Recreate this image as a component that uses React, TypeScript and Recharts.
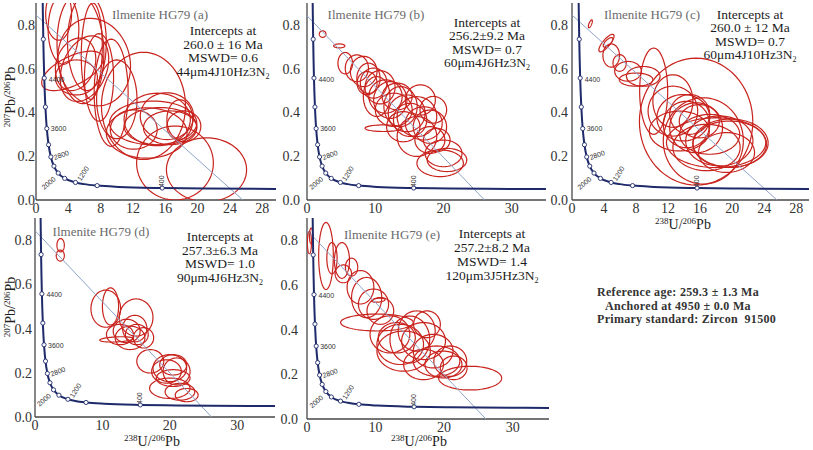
import React from 'react'
import { ScatterChart, Scatter, XAxis, YAxis } from 'recharts'

const RED = '#c8231d'
const NAVY = '#1f2a6b'
const DISCORDIA = '#8fa3c8'
const FRAME = '#474747'
const SERIF = '"Liberation Serif", "Times New Roman", Times, serif'
const SANS = '"Liberation Sans", Arial, sans-serif'

// Tera-Wasserburg concordia
const concordiaX = [0.829, 0.853, 0.9045, 0.96, 1.0215, 1.0888, 1.163, 1.2452, 1.337, 1.556, 1.838, 2.217, 2.749, 3.55, 4.888, 5.959, 7.568, 10.25, 15.62, 20.99, 31.73, 42.48]
const concordiaY = [0.907, 0.845, 0.7346, 0.639, 0.557, 0.4862, 0.425, 0.3721, 0.3264, 0.2524, 0.1968, 0.1548, 0.123, 0.0987, 0.0801, 0.0725, 0.0658, 0.0599, 0.0547, 0.0523, 0.0501, 0.049]

// age markers (Ma) on the concordia
const markerAges = [4800, 4400, 4000, 3600, 3200, 2800, 2400, 2000, 1600, 1200, 800, 400]
const markerX = [0.9045, 1.0215, 1.163, 1.337, 1.556, 1.838, 2.217, 2.749, 3.55, 4.888, 7.568, 15.62]
const markerY = [0.7346, 0.557, 0.425, 0.3264, 0.2524, 0.1968, 0.1548, 0.123, 0.0987, 0.0801, 0.0658, 0.0547]

const panelIds = ['a', 'b', 'c', 'd', 'e']
const intercepts = ['260.0 ± 16 Ma', '256.2±9.2 Ma', '260.0 ± 12 Ma', '257.3±6.3 Ma', '257.2±8.2 Ma']
const mswd = ['0.6', '0.7', '0.7', '1.0', '1.4']
const spots = ['44μm4J10Hz3', '60μm4J6Hz3', '60μm4J10Hz3', '90μm4J6Hz3', '120μm3J5Hz3']

// discordia: 207Pb/206Pb intercept and 238U/206Pb intercept
const discordiaY0 = [0.845, 0.842, 0.845, 0.843, 0.845]
const discordiaX0 = [25.6, 26.0, 25.6, 26.2, 26.1]

const ticksFine = [0, 4, 8, 12, 16, 20, 24, 28]
const ticksCoarse = [0, 10, 20, 30]
const yTicks = [0, 0.2, 0.4, 0.6, 0.8]

// error ellipses: [238U/206Pb, 207Pb/206Pb, half width, half height, rho]
const ellipsesA = [
  [3.4, 0.78, 1.9, 0.16, 0], [5.5, 0.69, 2.9, 0.25, -0.1], [6.3, 0.72, 2.4, 0.22, 0],
  [6.9, 0.68, 1.3, 0.22, 0.1], [4.5, 0.59, 3.8, 0.09, 0.6], [4.9, 0.62, 2.5, 0.12, 0.2],
  [7.2, 0.63, 4.5, 0.2, -0.1], [5.0, 0.56, 2.6, 0.08, 0], [9.3, 0.49, 2.1, 0.245, 0],
  [7.8, 0.56, 1.8, 0.2, 0], [6.0, 0.6, 3.0, 0.15, 0.3], [2.8, 0.85, 1.6, 0.12, 0],
  [13.3, 0.43, 5.2, 0.245, 0], [14.5, 0.352, 5.4, 0.1, 0], [15.4, 0.337, 4.5, 0.085, 0],
  [15.0, 0.368, 4.1, 0.12, 0], [16.6, 0.33, 3.3, 0.077, 0], [13.7, 0.306, 5.0, 0.115, 0],
  [16.2, 0.383, 3.3, 0.107, 0], [17.2, 0.169, 4.75, 0.169, 0], [21.1, 0.138, 4.96, 0.146, 0],
  [18.3, 0.337, 2.1, 0.07, 0], [17.8, 0.368, 1.6, 0.09, 0], [12.1, 0.322, 2.9, 0.09, 0],
  [10.0, 0.46, 2.5, 0.18, 0],
]
const ellipsesB = [
  [2.29, 0.758, 0.49, 0.015, 0], [4.73, 0.704, 0.83, 0.009, 0], [5.6, 0.625, 1.07, 0.049, 0],
  [7.3, 0.602, 1.7, 0.061, 0], [8.3, 0.587, 1.95, 0.069, 0], [9.0, 0.556, 1.7, 0.069, 0],
  [9.76, 0.534, 1.95, 0.069, 0], [10.7, 0.515, 2.2, 0.076, 0], [11.5, 0.473, 2.44, 0.076, 0],
  [12.2, 0.457, 2.44, 0.084, 0], [12.7, 0.412, 2.7, 0.076, 0], [13.7, 0.427, 2.44, 0.091, 0],
  [14.6, 0.396, 2.7, 0.084, 0], [15.1, 0.366, 2.44, 0.076, 0], [16.1, 0.381, 2.9, 0.091, 0],
  [17.1, 0.35, 2.7, 0.076, 0], [18.0, 0.335, 2.44, 0.076, 0], [14.1, 0.335, 2.44, 0.069, 0],
  [11.2, 0.328, 2.7, 0.015, 0], [18.0, 0.274, 2.2, 0.061, 0], [20.0, 0.213, 2.7, 0.061, 0],
  [20.5, 0.183, 2.9, 0.053, 0], [19.5, 0.168, 3.4, 0.061, 0], [19.0, 0.274, 1.95, 0.053, 0],
  [16.1, 0.29, 2.9, 0.091, 0], [13.2, 0.473, 2.2, 0.061, 0], [10.2, 0.473, 1.95, 0.091, 0],
  [8.8, 0.534, 1.46, 0.053, 0], [16.6, 0.457, 2.2, 0.069, 0], [18.5, 0.412, 1.95, 0.061, 0],
]
const ellipsesC = [
  [2.29, 0.805, 0.25, 0.018, 0.7], [4.3, 0.717, 0.95, 0.04, 0.8], [4.5, 0.72, 0.6, 0.022, 0.7],
  [4.9, 0.66, 1.04, 0.053, 0], [5.95, 0.626, 0.83, 0.038, 0], [7.0, 0.588, 1.67, 0.045, 0],
  [8.0, 0.55, 2.1, 0.03, 0], [8.9, 0.565, 2.1, 0.045, 0], [10.2, 0.497, 1.75, 0.197, 0],
  [15.5, 0.358, 7.08, 0.29, 0], [12.6, 0.406, 3.1, 0.114, 0], [13.9, 0.376, 3.3, 0.106, 0],
  [14.3, 0.345, 2.9, 0.106, 0], [14.7, 0.391, 2.5, 0.091, 0], [12.6, 0.452, 2.5, 0.12, 0],
  [15.5, 0.33, 3.3, 0.114, 0], [15.9, 0.36, 2.5, 0.076, 0], [17.2, 0.3, 3.75, 0.091, 0],
  [13.4, 0.315, 3.75, 0.091, 0], [18.4, 0.27, 4.2, 0.114, 0], [19.7, 0.255, 4.6, 0.106, 0],
  [16.4, 0.27, 5.0, 0.197, 0], [16.8, 0.24, 4.2, 0.106, 0], [19.3, 0.217, 3.5, 0.091, 0],
  [18.0, 0.262, 6.2, 0.114, 0], [19.8, 0.26, 4.7, 0.11, 0],
]
const ellipsesD = [
  [3.8, 0.777, 0.55, 0.03, 0], [3.75, 0.73, 0.6, 0.025, 0], [10.5, 0.49, 2.2, 0.084, 0],
  [11.2, 0.5, 1.2, 0.084, 0], [15.0, 0.45, 2.5, 0.084, 0], [13.6, 0.389, 2.0, 0.053, 0],
  [14.1, 0.358, 2.2, 0.053, 0], [12.6, 0.373, 2.0, 0.046, 0], [15.1, 0.373, 1.7, 0.046, 0],
  [16.1, 0.358, 1.5, 0.046, 0], [12.1, 0.351, 2.5, 0.012, 0.3], [14.8, 0.4, 1.8, 0.06, 0],
  [17.1, 0.252, 2.0, 0.053, 0], [20.0, 0.221, 2.5, 0.061, 0], [20.5, 0.236, 2.0, 0.046, 0],
  [19.5, 0.206, 2.2, 0.053, 0], [21.0, 0.206, 2.0, 0.061, 0], [20.5, 0.176, 2.5, 0.038, 0],
  [20.0, 0.13, 3.0, 0.046, 0], [21.5, 0.114, 2.2, 0.038, 0], [22.5, 0.099, 1.7, 0.03, 0],
]
const ellipsesE = [
  [0.35, 0.79, 0.3, 0.05, 0], [0.6, 0.82, 0.25, 0.035, 0], [2.77, 0.73, 1.07, 0.15, 0],
  [3.64, 0.72, 0.75, 0.07, 0], [5.1, 0.71, 1.1, 0.08, 0], [5.3, 0.65, 1.2, 0.04, 0],
  [6.5, 0.68, 0.9, 0.04, 0], [7.8, 0.59, 1.95, 0.075, 0], [8.7, 0.544, 2.2, 0.09, 0],
  [9.7, 0.514, 2.2, 0.068, 0], [10.7, 0.484, 1.95, 0.06, 0], [10.2, 0.432, 5.3, 0.038, 0],
  [12.1, 0.379, 2.9, 0.083, 0], [13.1, 0.364, 2.7, 0.068, 0], [13.6, 0.334, 3.4, 0.09, 0],
  [15.0, 0.356, 2.9, 0.105, 0], [16.0, 0.394, 2.7, 0.09, 0], [17.0, 0.349, 3.2, 0.083, 0],
  [14.1, 0.304, 3.9, 0.09, 0], [18.4, 0.304, 2.9, 0.075, 0], [18.9, 0.259, 3.4, 0.068, 0],
  [19.9, 0.244, 2.7, 0.06, 0], [21.4, 0.229, 1.95, 0.053, 0], [23.8, 0.183, 4.6, 0.053, 0],
  [17.0, 0.244, 2.9, 0.068, 0], [20.9, 0.259, 2.4, 0.068, 0], [17.5, 0.424, 1.95, 0.06, 0],
  [10.4, 0.532, 1.0, 0.009, 0.3],
]
const ellipseSets = [ellipsesA, ellipsesB, ellipsesC, ellipsesD, ellipsesE]

// panel placement (px)
const layout = [
  { left: 0, top: 0, w: 280, h: 218, mt: 3, mr: 4, yw: 36, xh: 18, xMax: 29.7, ticks: ticksFine, yGap: 1, title: [160, 15], info: [223, 24, 13.7] },
  { left: 280, top: 0, w: 268, h: 218, mt: 3, mr: 2, yw: 27, xh: 18, xMax: 35, ticks: ticksCoarse, yGap: 7, title: [376, 15], info: [487, 16, 13.4] },
  { left: 548, top: 0, w: 265, h: 218, mt: 3, mr: 4, yw: 24, xh: 18, xMax: 29.6, ticks: ticksFine, yGap: 4, title: [652, 15], info: [750, 8, 13.4] },
  { left: 0, top: 210, w: 280, h: 240, mt: 8, mr: 5, yw: 35, xh: 33, xMax: 35.6, ticks: ticksCoarse, yGap: 3, title: [101, 232], info: [220, 230, 13.7] },
  { left: 280, top: 210, w: 270, h: 240, mt: 8, mr: 1, yw: 27, xh: 31, xMax: 35.3, ticks: ticksCoarse, yGap: 9, title: [392, 235], info: [492, 227, 14] },
]

const labelStyle: Record<number, { dx: number; dy: number; rot: number; anchor: string }> = {
  4400: { dx: 4.5, dy: 3.5, rot: 0, anchor: 'start' },
  3600: { dx: 4, dy: 2.7, rot: 0, anchor: 'start' },
  2800: { dx: 4, dy: 3, rot: -20, anchor: 'start' },
  2000: { dx: -2, dy: 7, rot: -40, anchor: 'end' },
  1200: { dx: 5.5, dy: -1, rot: -58, anchor: 'start' },
  400: { dx: 2, dy: -1, rot: -90, anchor: 'start' },
}

const ellipsePoints = ([cx, cy, sx, sy, rho]: number[]) => {
  const k = Math.sqrt(1 - rho * rho)
  return Array.from({ length: 73 }, (_, i) => {
    const t = (i / 72) * 2 * Math.PI
    return { x: cx + sx * Math.cos(t), y: cy + sy * (rho * Math.cos(t) + k * Math.sin(t)) }
  })
}

const concordia = concordiaX.map((x, i) => ({ x, y: concordiaY[i] }))
const markers = markerAges.map((age, i) => ({ x: markerX[i], y: markerY[i], age }))

const noDot = () => <g />

const MarkerShape = (props: any) => {
  const { cx, cy, payload } = props
  const s = labelStyle[payload.age]
  return (
    <g>
      <circle cx={cx} cy={cy} r={2.1} fill="#fff" stroke={NAVY} strokeWidth={0.9} />
      {s && (
        <text
          x={cx + s.dx}
          y={cy + s.dy}
          transform={`rotate(${s.rot} ${cx + s.dx} ${cy + s.dy})`}
          fontSize={7}
          fontFamily={SANS}
          fill="#333"
          textAnchor={s.anchor}
        >
          {payload.age}
        </text>
      )}
    </g>
  )
}

const Sup = ({ children }: { children: React.ReactNode }) => (
  <span style={{ fontSize: 9, position: 'relative', top: -5 }}>{children}</span>
)

const XTitle = ({ x, y }: { x: number; y: number }) => (
  <div style={{ position: 'absolute', left: x, top: y, transform: 'translate(-50%, -50%)', fontFamily: SERIF, fontSize: 14, color: '#222', whiteSpace: 'nowrap' }}>
    <Sup>238</Sup>U/<Sup>206</Sup>Pb
  </div>
)

const YTitle = ({ x, y }: { x: number; y: number }) => (
  <div style={{ position: 'absolute', left: x, top: y, transform: 'translate(-50%, -50%) rotate(-90deg)', fontFamily: SERIF, fontSize: 14, color: '#222', whiteSpace: 'nowrap' }}>
    <Sup>207</Sup>Pb/<Sup>206</Sup>Pb
  </div>
)

const tickStyle = { fill: '#333', fontSize: 14, fontFamily: SERIF }

function Panel({ idx }: { idx: number }) {
  const L = layout[idx]
  const discordia = [{ x: 0, y: discordiaY0[idx] }, { x: discordiaX0[idx], y: 0 }]
  return (
    <div style={{ position: 'absolute', left: L.left, top: L.top }}>
      <ScatterChart width={L.w} height={L.h} margin={{ top: L.mt, right: L.mr, bottom: 0, left: 0 }}>
        <XAxis
          type="number"
          dataKey="x"
          domain={[0, L.xMax]}
          allowDataOverflow
          ticks={L.ticks}
          interval={0}
          height={L.xh}
          tickLine={false}
          tickSize={0}
          tickMargin={3}
          tick={tickStyle}
          axisLine={{ stroke: FRAME, strokeWidth: 1.3 }}
        />
        <YAxis
          type="number"
          dataKey="y"
          domain={[0, 0.9]}
          allowDataOverflow
          ticks={yTicks}
          interval={0}
          width={L.yw}
          tickLine={false}
          tickSize={0}
          tickMargin={L.yGap}
          tick={tickStyle}
          tickFormatter={(v: number) => v.toFixed(1)}
          axisLine={{ stroke: FRAME, strokeWidth: 1.3 }}
        />
        <XAxis xAxisId="top" orientation="top" type="number" domain={[0, L.xMax]} height={0} tick={false} tickLine={false} axisLine={{ stroke: FRAME, strokeWidth: 1.3 }} />
        <YAxis yAxisId="right" orientation="right" type="number" domain={[0, 0.9]} width={0} tick={false} tickLine={false} axisLine={{ stroke: FRAME, strokeWidth: 1.3 }} />
        {ellipseSets[idx].map((e, i) => (
          <Scatter
            key={i}
            data={ellipsePoints(e)}
            line={{ stroke: RED, strokeWidth: 1.2 }}
            lineType="joint"
            shape={noDot}
            isAnimationActive={false}
          />
        ))}
        <Scatter data={discordia} line={{ stroke: DISCORDIA, strokeWidth: 1 }} shape={noDot} isAnimationActive={false} />
        <Scatter data={concordia} line={{ stroke: NAVY, strokeWidth: 2 }} lineJointType="monotoneX" shape={noDot} isAnimationActive={false} />
        <Scatter data={markers} shape={MarkerShape} isAnimationActive={false} />
      </ScatterChart>
    </div>
  )
}

export default function App() {
  return (
    <div style={{ position: 'absolute', left: 0, top: 0, width: 813, height: 450, background: '#fff', overflow: 'hidden' }}>
      {panelIds.map((id, i) => (
        <Panel key={id} idx={i} />
      ))}
      {panelIds.map((id, i) => {
        const L = layout[i]
        return (
          <React.Fragment key={`t-${id}`}>
            <div style={{ position: 'absolute', left: L.title[0], top: L.title[1], transform: 'translate(-50%, -50%)', fontFamily: SERIF, fontSize: 13, color: '#6a6a6a', whiteSpace: 'nowrap' }}>
              Ilmenite HG79 ({id})
            </div>
            <div style={{ position: 'absolute', left: L.info[0], top: L.info[1], transform: 'translateX(-50%)', textAlign: 'center', fontFamily: SERIF, fontSize: 13.5, lineHeight: `${L.info[2]}px`, color: '#1c1c1c', whiteSpace: 'nowrap' }}>
              <div>Intercepts at</div>
              <div>{intercepts[i]}</div>
              <div>MSWD= {mswd[i]}</div>
              <div>
                {spots[i]}N<span style={{ fontSize: 8, position: 'relative', top: 3 }}>2</span>
              </div>
            </div>
          </React.Fragment>
        )
      })}
      <YTitle x={11} y={97} />
      <YTitle x={11} y={307} />
      <XTitle x={683} y={225} />
      <XTitle x={152} y={442} />
      <XTitle x={419} y={442} />
      <div style={{ position: 'absolute', left: 597, top: 286, fontFamily: SERIF, fontWeight: 'bold', fontSize: 12, letterSpacing: 0.3, color: '#333', lineHeight: '13.5px', whiteSpace: 'nowrap' }}>
        <div>Reference age: 259.3 ± 1.3 Ma</div>
        <div style={{ paddingLeft: 8 }}>Anchored at 4950 ± 0.0 Ma</div>
        <div>Primary standard: Zircon&nbsp; 91500</div>
      </div>
    </div>
  )
}
